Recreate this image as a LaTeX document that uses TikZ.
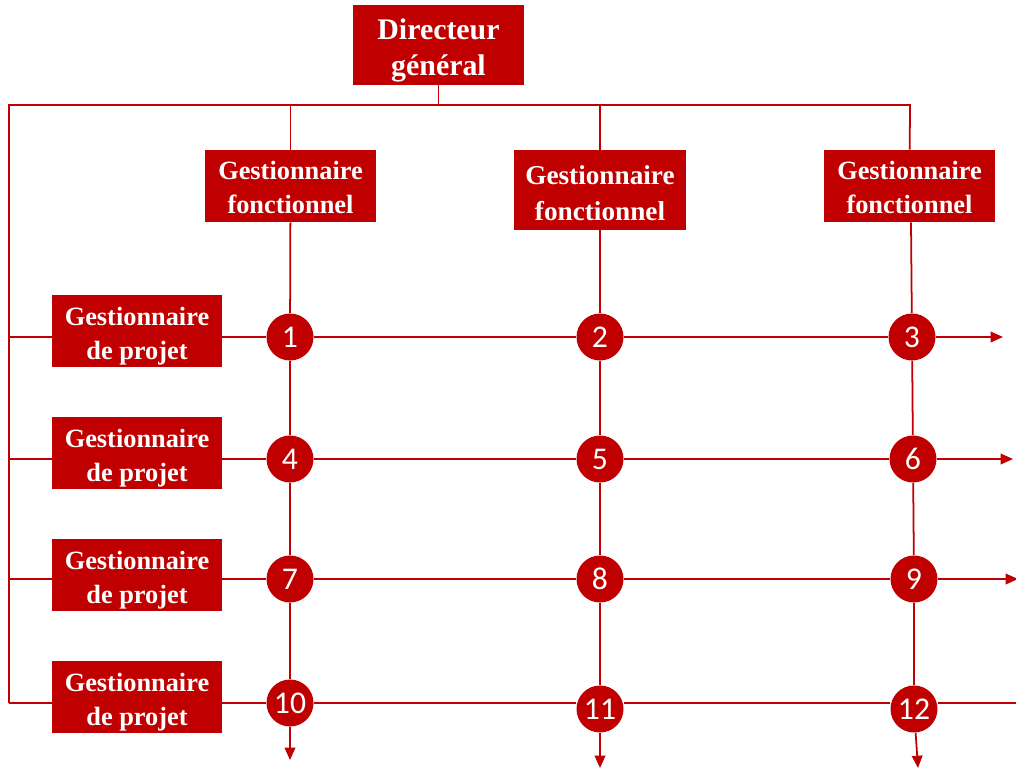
\documentclass[tikz,border=0pt]{standalone}
\usepackage{fontspec}
\setmainfont{Liberation Serif}
\newfontfamily\numfont{Carlito}
\usetikzlibrary{arrows.meta}
\definecolor{rouge}{HTML}{C00000}
\begin{document}
\begin{tikzpicture}[draw=rouge,color=rouge]

                \tikzset{box/.style = {shape=rectangle,fill=rouge,minimum width=3.4cm,minimum height=1.44cm,inner sep=0pt}}
                \tikzset{boxtext/.style = {text=white,align=center,inner sep=0pt,yshift=-3pt,font=\bfseries\fontsize{15}{19.2}\selectfont}}
                \tikzset{vertex/.style = {shape=circle,fill=rouge,text=white,minimum size=0.94cm,inner sep=0pt,font=\numfont\fontsize{18}{18}\selectfont}}
                \tikzset{edge/.style = {line width=1pt}}
                \tikzset{arc/.style = {edge,-{Triangle[length=7pt,width=6pt]}}}
                \useasboundingbox (0,0) rectangle (20.32,-15.4);
                % boxes
                \node[box,minimum width=3.42cm,minimum height=1.6cm,label={[boxtext,font=\bfseries\fontsize{17}{20.5}\selectfont]center:Directeur\\général}] (dg) at (8.77,-0.9) {};
                \node[box,minimum width=3.42cm,label={[boxtext,yshift=2pt]center:Gestionnaire\\fonctionnel}] (f1) at (5.81,-3.72) {};
                \node[box,minimum width=3.44cm,minimum height=1.6cm,label={[boxtext,yshift=1pt,font=\bfseries\fontsize{15.5}{20.5}\selectfont]center:Gestionnaire\\fonctionnel}] (f2) at (12.0,-3.8) {};
                \node[box,minimum width=3.42cm,label={[boxtext,yshift=2pt]center:Gestionnaire\\fonctionnel}] (f3) at (18.19,-3.72) {};
                \node[box,label={[boxtext]center:Gestionnaire\\de projet}] (p1) at (2.74,-6.62) {};
                \node[box,label={[boxtext]center:Gestionnaire\\de projet}] (p2) at (2.74,-9.06) {};
                \node[box,label={[boxtext]center:Gestionnaire\\de projet}] (p3) at (2.74,-11.5) {};
                \node[box,label={[boxtext]center:Gestionnaire\\de projet}] (p4) at (2.74,-13.94) {};
                % crossings
                \node[vertex] (1) at (5.8,-6.74) {1};
                \node[vertex] (2) at (12.0,-6.74) {2};
                \node[vertex] (3) at (18.24,-6.74) {3};
                \node[vertex] (4) at (5.8,-9.18) {4};
                \node[vertex] (5) at (12.0,-9.18) {5};
                \node[vertex] (6) at (18.26,-9.18) {6};
                \node[vertex] (7) at (5.8,-11.58) {7};
                \node[vertex] (8) at (12.0,-11.58) {8};
                \node[vertex] (9) at (18.28,-11.58) {9};
                \node[vertex] (10) at (5.8,-14.06) {10};
                \node[vertex] (11) at (12.0,-14.18) {11};
                \node[vertex] (12) at (18.28,-14.18) {12};
                \coordinate (tl) at (0.18,-2.1);
                \coordinate (tr) at (18.2,-2.1);
                \coordinate (bl) at (0.18,-14.06);
                \coordinate (e1) at (20.06,-6.74);
                \coordinate (e2) at (20.26,-9.18);
                \coordinate (e3) at (20.36,-11.58);
                \coordinate (e4) at (20.32,-14.06);
                \coordinate (d1) at (5.8,-15.2);
                \coordinate (d2) at (12.0,-15.36);
                \coordinate (d3) at (18.36,-15.36);
                % lines
                \draw[edge] (bl) -- (tl) -- (tr) -- (f3);
                \draw[edge] (dg) -- (dg |- tl);
                \draw[edge] (f1) -- (f1 |- tl);
                \draw[edge] (f2) -- (f2 |- tl);
                \draw[edge] (tl |- 1) -- (p1.west |- 1);
                \draw[edge] (tl |- 4) -- (p2.west |- 4);
                \draw[edge] (tl |- 7) -- (p3.west |- 7);
                \draw[edge] (bl) -- (p4.west |- 10);
                \draw[arc] (p1.east |- 1) -- (1) -- (2) -- (3) -- (e1);
                \draw[arc] (p2.east |- 4) -- (4) -- (5) -- (6) -- (e2);
                \draw[arc] (p3.east |- 7) -- (7) -- (8) -- (9) -- (e3);
                \draw[edge] (p4.east |- 10) -- (10) -- (10 -| 11.west);
                \draw[edge] (10 -| 11.east) -- (10 -| 12.west);
                \draw[edge] (10 -| 12.east) -- (e4);
                \draw[arc] (f1) -- (1) -- (4) -- (7) -- (10) -- (d1);
                \draw[arc] (f2) -- (2) -- (5) -- (8) -- (11) -- (d2);
                \draw[arc] (f3.south -| 18.22,0) -- (3) -- (6) -- (9) -- (12) -- (d3);
            \end{tikzpicture}
\end{document}
